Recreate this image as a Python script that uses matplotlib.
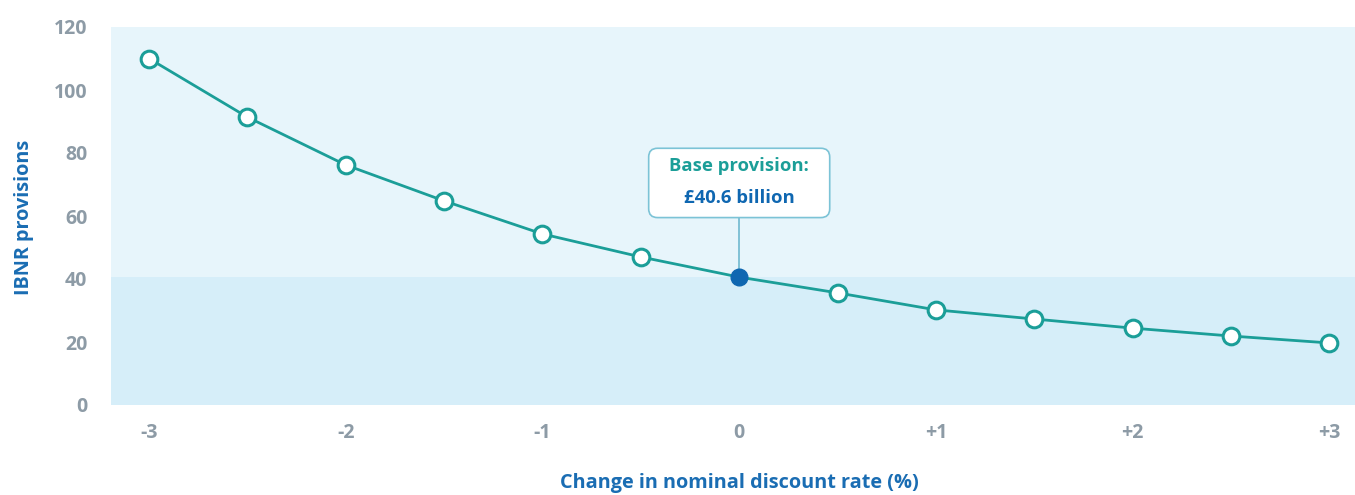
import matplotlib
matplotlib.use("Agg")
import matplotlib.pyplot as plt
from matplotlib.patches import FancyBboxPatch

# Sensitivity of IBNR provisions to the nominal discount rate
rate_change = [-3, -2.5, -2, -1.5, -1, -0.5, 0, 0.5, 1, 1.5, 2, 2.5, 3]
provisions = [110, 91.4, 76.2, 64.8, 54.3, 47.0, 40.6, 35.6, 30.2, 27.3, 24.4, 21.9, 19.7]
base_rate = 0
base_value = 40.6
x_ticks = [-3, -2, -1, 0, 1, 2, 3]
x_labels = ["-3", "-2", "-1", "0", "+1", "+2", "+3"]
y_ticks = [0, 20, 40, 60, 80, 100, 120]

TEAL = "#1b9e98"
DARK_BLUE = "#0f67b1"
LABEL_BLUE = "#1a6db3"
TICK_GREY = "#8d9ba6"
BG_UPPER = "#e7f5fb"
BG_LOWER = "#d6eef9"

plt.rcParams["font.family"] = ["Open Sans", "DejaVu Sans"]

fig = plt.figure(figsize=(13.55, 4.95), dpi=100)
ax = fig.add_axes([111 / 1355, 1 - 405 / 495, 1244 / 1355, 378 / 495])

xmin, xmax = -3.193, 3.13
ax.set_xlim(xmin, xmax)
ax.set_ylim(0, 120)

# two-tone background split at the base provision
ax.axhspan(base_value, 120, color=BG_UPPER, zorder=0, lw=0)
ax.axhspan(0, base_value, color=BG_LOWER, zorder=0, lw=0)

ax.plot(rate_change, provisions, color=TEAL, lw=2.0, zorder=2)
others = [(x, y) for x, y in zip(rate_change, provisions) if x != base_rate]
ax.plot([p[0] for p in others], [p[1] for p in others], "o", ms=12,
        mfc="white", mec=TEAL, mew=2.2, zorder=3)
ax.plot([base_rate], [base_value], "o", ms=12, mfc=DARK_BLUE, mec=DARK_BLUE, zorder=4)

# callout for the base case
box_bottom, box_top = 59.5, 81.5
ax.plot([base_rate, base_rate], [base_value, box_bottom], color="#6fb8cf", lw=1.2, zorder=1)
box_w = 181 / 196.7
box = FancyBboxPatch((base_rate - box_w / 2, box_bottom), box_w, box_top - box_bottom,
                     boxstyle="round,pad=0,rounding_size=0.045", mutation_aspect=62,
                     fc="white", ec="#7cc3d6", lw=1.2, zorder=5)
ax.add_patch(box)
ax.text(base_rate, 75.8, "Base provision:", ha="center", va="center",
        color=TEAL, fontsize=13.3, fontweight="bold", zorder=6)
ax.text(base_rate, 65.8, "£40.6 billion", ha="center", va="center",
        color=DARK_BLUE, fontsize=13.3, fontweight="bold", zorder=6)

ax.set_xticks(x_ticks)
ax.set_xticklabels(x_labels)
ax.set_yticks(y_ticks)
ax.tick_params(length=0, colors=TICK_GREY, labelsize=14)
ax.tick_params(axis="x", pad=13)
ax.tick_params(axis="y", pad=17)
for lbl in ax.get_xticklabels() + ax.get_yticklabels():
    lbl.set_fontweight("bold")
for s in ax.spines.values():
    s.set_visible(False)

fig.text(24 / 1355, 1 - 217 / 495, "IBNR provisions", rotation=90, ha="center", va="center",
         color=LABEL_BLUE, fontsize=14.3, fontweight="bold")
fig.text(739 / 1355, 1 - 483 / 495, "Change in nominal discount rate (%)", ha="center", va="center",
         color=LABEL_BLUE, fontsize=14.3, fontweight="bold")

fig.savefig("out.png", dpi=100)
